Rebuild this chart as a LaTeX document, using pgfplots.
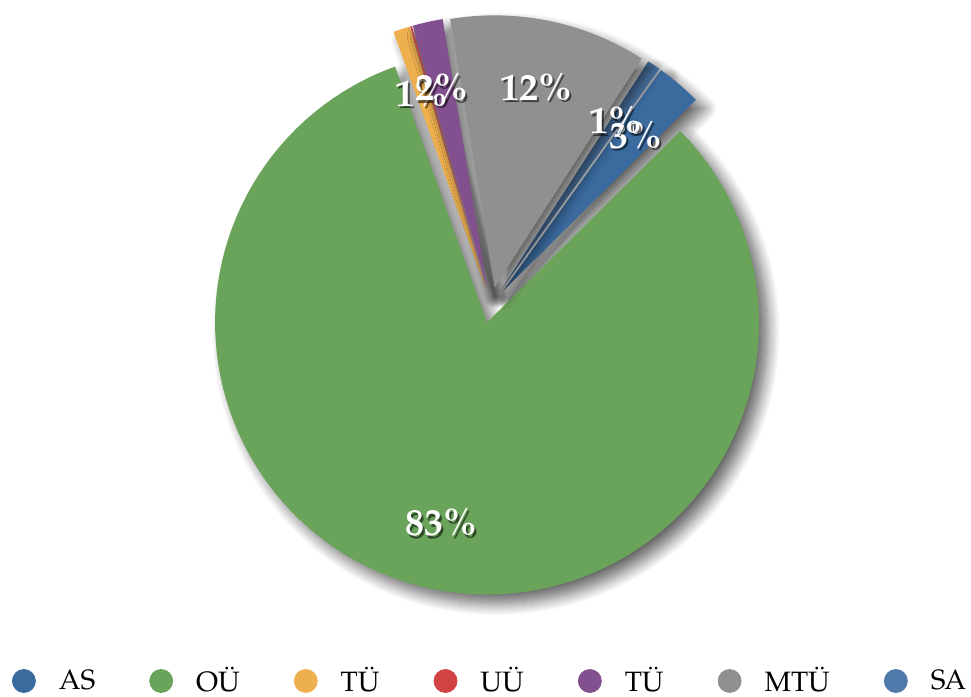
\documentclass[border=0pt]{standalone}
\usepackage{pgfplots}
\pgfplotsset{compat=1.18}
\usepackage{pgfplotstable}
\usepackage{fontspec}
\setmainfont{TeX Gyre Pagella}
\usetikzlibrary{shadows.blur}

\definecolor{cAS}{HTML}{3A6A9E}
\definecolor{cOU}{HTML}{6AA35A}
\definecolor{cTU}{HTML}{EEB04E}
\definecolor{cUU}{HTML}{D14343}
\definecolor{cTUb}{HTML}{82508F}
\definecolor{cMTU}{HTML}{8F908F}
\definecolor{cSA}{HTML}{4E7AAB}

% shares in percent, clockwise from the start angle
\pgfplotstableread{
name value
AS   2.7
OU   82.6
TU   1.0
UU   0.1
TUb  1.8
MTU  11.8
SA   0.8
}\piedata

\def\startangle{54.4}
\def\cx{491}\def\cy{392}\def\rad{272}\def\expl{18}\def\lrad{223}

% total and angles
\xdef\total{0}
\foreach \i in {0,...,6}{%
  \pgfplotstablegetelem{\i}{value}\of\piedata
  \pgfmathparse{\total+\pgfplotsretval}\xdef\total{\pgfmathresult}%
}
\xdef\cur{\startangle}
\foreach \i in {0,...,6}{%
  \pgfplotstablegetelem{\i}{value}\of\piedata
  \pgfmathparse{\cur-\pgfplotsretval/\total*360}\let\e\pgfmathresult
  \expandafter\xdef\csname sa\i\endcsname{\cur}%
  \expandafter\xdef\csname se\i\endcsname{\e}%
  \expandafter\xdef\csname val\i\endcsname{\pgfplotsretval}%
  \xdef\cur{\e}%
}

\newcommand\slice[2]{%
  \pgfmathsetmacro\a{\csname sa#1\endcsname}%
  \pgfmathsetmacro\b{\csname se#1\endcsname}%
  \pgfmathsetmacro\m{(\a+\b)/2}%
  \pgfmathsetmacro\px{\cx+\expl*cos(\m)}%
  \pgfmathsetmacro\py{\cy+\expl*sin(\m)}%
  \edef\temp{\noexpand\addplot[draw=none, fill=#2,
      blur shadow={shadow xshift=4.5pt, shadow yshift=-4.5pt, shadow blur radius=6pt, shadow blur steps=12, shadow opacity=60},
      domain=\b:\a, samples=120]
    ({\px+\rad*cos(x)},{\py+\rad*sin(x)}) -- (axis cs:\px,\py) -- cycle;}%
  \temp
}
\newcommand\plabel[1]{%
  \pgfmathsetmacro\a{\csname sa#1\endcsname}%
  \pgfmathsetmacro\b{\csname se#1\endcsname}%
  \pgfmathsetmacro\m{(\a+\b)/2}%
  \pgfmathsetmacro\lx{\cx+\lrad*cos(\m)}%
  \pgfmathsetmacro\ly{\cy+\lrad*sin(\m)}%
  \pgfmathsetmacro\pv{round(\csname val#1\endcsname)}%
  \pgfmathtruncatemacro\pvi{\pv}%
  \edef\temp{\noexpand\node[text=black, opacity=0.55, font=\noexpand\labelfont, xshift=1pt, yshift=-1.2pt] at (axis cs:\lx,\ly) {\pvi\noexpand\%};
    \noexpand\node[text=white, font=\noexpand\labelfont] at (axis cs:\lx,\ly) {\pvi\noexpand\%};}%
  \temp
}
\newcommand\labelfont{\bfseries\fontsize{19}{21}\selectfont}

\begin{document}
\begin{tikzpicture}
\begin{axis}[
  scale only axis, width=485.5pt, height=348.5pt,
  xmin=0, xmax=971, ymin=0, ymax=697,
  hide axis, clip=false,
  legend columns=7,
  legend style={draw=none, fill=none, at={(axis cs:12,16)}, anchor=west,
    inner sep=0pt, outer sep=0pt,
    font=\fontsize{14}{15}\selectfont,
    nodes={inner xsep=0pt, inner ysep=0pt},
    /tikz/every odd column/.append style={column sep=11.5pt},
    /tikz/every even column/.append style={column sep=27pt}},
  legend image code/.code={\fill[#1] (5.75pt,0pt) circle (5.75pt);},
]
\coordinate (BL) at (rel axis cs:0,0);
\coordinate (TR) at (rel axis cs:1,1);
\addlegendimage{cAS}\addlegendentry{AS}
\addlegendimage{cOU}\addlegendentry{OÜ}
\addlegendimage{cTU}\addlegendentry{TÜ}
\addlegendimage{cUU}\addlegendentry{UÜ}
\addlegendimage{cTUb}\addlegendentry{TÜ}
\addlegendimage{cMTU}\addlegendentry{MTÜ}
\addlegendimage{cSA}\addlegendentry{SA}

\slice{6}{cSA}
\slice{0}{cAS}
\slice{1}{cOU}
\slice{2}{cTU}
\slice{3}{cUU}
\slice{4}{cTUb}
\slice{5}{cMTU}

\plabel{0}
\plabel{1}
\plabel{2}
\plabel{4}
\plabel{5}
\plabel{6}
\end{axis}
\pgfresetboundingbox
\path (BL) rectangle (TR);
\end{tikzpicture}
\end{document}
